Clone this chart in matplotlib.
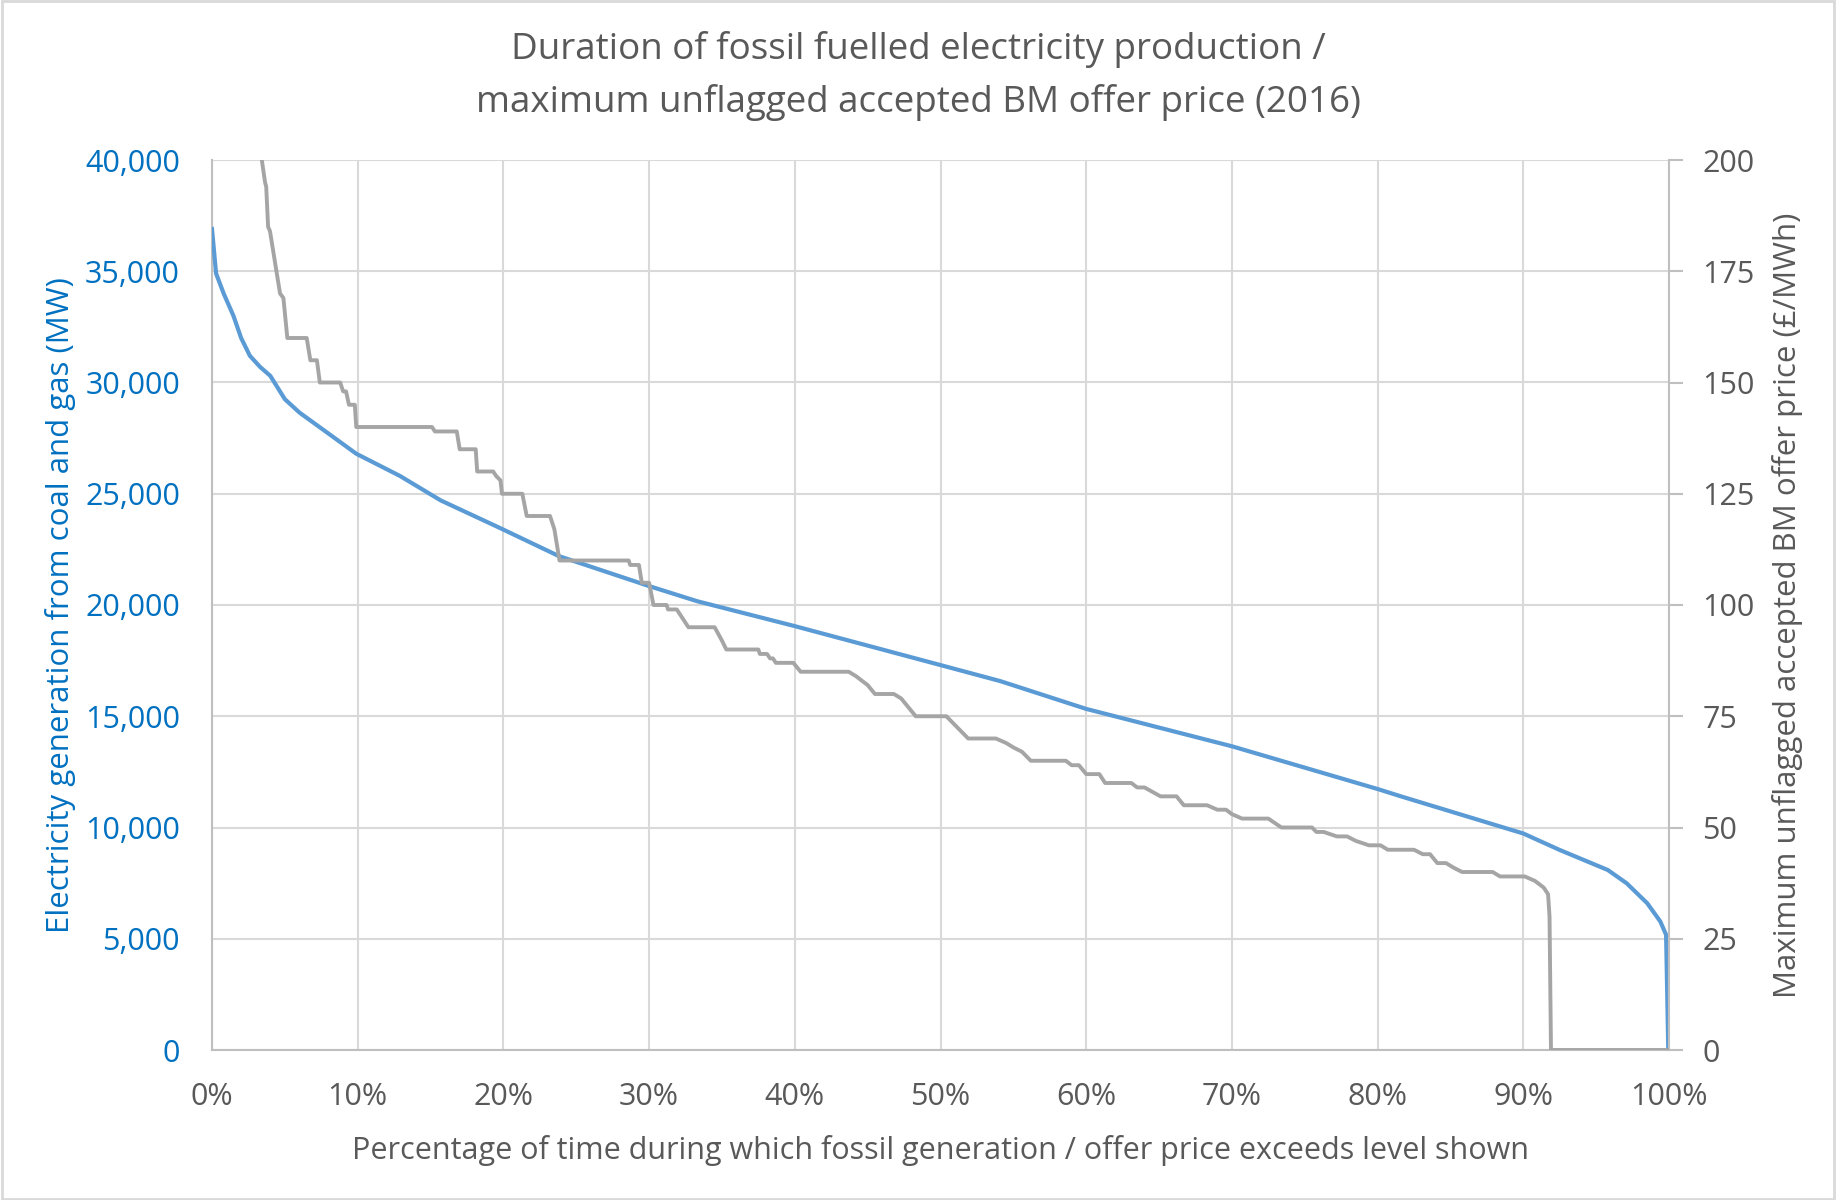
import numpy as np
import matplotlib
matplotlib.use("Agg")
import matplotlib.pyplot as plt
from matplotlib.patches import Rectangle
from matplotlib.ticker import FuncFormatter

# ── data ────────────────────────────────────────────────────────────────
# fossil generation duration curve: % of time, MW
gen_pct = [0, 0.28, 0.8, 1.47, 2.0, 2.6, 3.3, 4.0, 5.0, 6.0, 7.9, 9.9, 12.9, 15.7,
           19.8, 23.8, 30, 33.3, 40, 50, 54.1, 60, 70, 80, 81.6, 90, 92.5,
           95.8, 97.1, 98.5, 99.4, 99.8, 99.95]
gen_mw = [36900, 34900, 34000, 33000, 32000, 31200, 30700, 30300, 29250, 28650, 27750,
          26800, 25800, 24700, 23450, 22200, 20850, 20170, 19050, 17300, 16580,
          15330, 13650, 11730, 11400, 9730, 8990, 8090, 7490, 6600, 5780, 5180, 0]

# max unflagged accepted BM offer price duration curve: % of time, £/MWh
price_pct = [3.2, 3.42, 3.64, 3.72, 3.85, 3.98, 4.67, 4.9, 5.17, 6.5, 6.75, 7.2,
             7.4, 8.8, 9.0, 9.2, 9.4, 9.8, 9.9, 15.1, 15.3, 16.8, 17.0, 18.1,
             18.2, 19.3, 19.5, 19.8, 19.9, 21.3, 21.6, 23.2, 23.5, 23.85, 28.6,
             28.7, 29.3, 29.5, 30.0, 30.3, 31.2, 31.3, 31.9, 32.7, 34.5, 35.0,
             35.3, 37.5, 37.6, 38.1, 38.3, 38.5, 38.7, 39.9, 40.4, 43.7, 44.2,
             45.0, 45.5, 46.8, 47.3, 47.8, 48.3, 50.4, 51.0, 51.9, 53.8, 54.5,
             55.0, 55.6, 56.2, 58.6, 59.0, 59.5, 60.0, 60.9, 61.3, 63.1, 63.5,
             64.0, 65.1, 66.2, 66.7, 68.3, 69.0, 69.6, 70.0, 70.7, 72.5, 73.4,
             75.5, 75.8, 76.3, 77.2, 77.9, 78.5, 79.4, 80.2, 80.7, 82.5, 83.1,
             83.6, 84.1, 84.7, 85.2, 85.8, 87.9, 88.4, 90.1, 90.8, 91.4, 91.7,
             91.8, 91.9, 100]
price_val = [215, 200, 195, 194, 185, 184, 170, 169, 160, 160, 155, 155,
             150, 150, 148, 148, 145, 145, 140, 140, 139, 139, 135, 135,
             130, 130, 129, 128, 125, 125, 120, 120, 117, 110, 110,
             109, 109, 105, 105, 100, 100, 99, 99, 95, 95, 92,
             90, 90, 89, 89, 88, 88, 87, 87, 85, 85, 84,
             82, 80, 80, 79, 77, 75, 75, 73, 70, 70, 69,
             68, 67, 65, 65, 64, 64, 62, 62, 60, 60, 59,
             59, 57, 57, 55, 55, 54, 54, 53, 52, 52, 50,
             50, 49, 49, 48, 48, 47, 46, 46, 45, 45, 44,
             44, 42, 42, 41, 40, 40, 39, 39, 38, 36.5, 35,
             30, 0, 0]

x_ticks = np.arange(0, 101, 10)
mw_ticks = np.arange(0, 40001, 5000)
price_ticks = np.arange(0, 201, 25)

BLUE = "#5B9BD5"
GREY = "#A5A5A5"
TXT = "#595959"
TICK_BLUE = "#0070C0"
GRID = "#D9D9D9"
AXIS = "#BFBFBF"

plt.rcParams["font.family"] = ["Open Sans", "DejaVu Sans"]

fig = plt.figure(figsize=(18.36, 12), dpi=100)
ax = fig.add_axes([212 / 1836, 150 / 1200, 1457 / 1836, 890 / 1200])
ax2 = ax.twinx()

ax.plot(gen_pct, gen_mw, color=BLUE, lw=3, zorder=3, solid_joinstyle="round")
ax2.plot(price_pct, price_val, color=GREY, lw=2.8, zorder=3, solid_joinstyle="round")

ax.set_xlim(0, 100)
ax.set_ylim(0, 40000)
ax2.set_ylim(0, 200)
ax.set_xticks(x_ticks)
ax.set_yticks(mw_ticks)
ax2.set_yticks(price_ticks)
ax.xaxis.set_major_formatter(FuncFormatter(lambda v, p: f"{v:.0f}%"))
ax.yaxis.set_major_formatter(FuncFormatter(lambda v, p: f"{v:,.0f}"))

ax.grid(True, color=GRID, lw=1.5, zorder=0)
ax.set_axisbelow(True)

for a in (ax, ax2):
    for sp in a.spines.values():
        sp.set_visible(False)
for sp in ("left", "bottom"):
    ax.spines[sp].set_visible(True)
    ax.spines[sp].set_color(AXIS)
    ax.spines[sp].set_linewidth(1.5)
ax2.spines["right"].set_visible(True)
ax2.spines["right"].set_color(AXIS)
ax2.spines["right"].set_linewidth(1.5)

ax.tick_params(axis="x", length=0, pad=23, labelsize=22, labelcolor=TXT)
ax.tick_params(axis="y", length=0, pad=23, labelsize=22, labelcolor=TICK_BLUE)
ax2.tick_params(axis="y", length=10, width=1.5, color=AXIS, pad=14,
                labelsize=22, labelcolor=TXT)

ax.set_xlabel("Percentage of time during which fossil generation / offer price exceeds level shown",
              fontsize=22, color=TXT)
ax.xaxis.set_label_coords(0.5, -0.113)
ax.xaxis.label.set_va("center")
ax.set_ylabel("Electricity generation from coal and gas (MW)", fontsize=22.5, color=TICK_BLUE)
ax.yaxis.set_label_coords(-0.104, 0.5)
ax.yaxis.label.set_va("center")
ax2.set_ylabel("Maximum unflagged accepted BM offer price (£/MWh)", fontsize=22.5, color=TXT)
ax2.yaxis.set_label_coords(1.081, 0.5)
ax2.yaxis.label.set_va("center")

fig.text(0.5, 1 - 76 / 1200,
         "Duration of fossil fuelled electricity production /\nmaximum unflagged accepted BM offer price (2016)",
         ha="center", va="center", fontsize=26.5, color=TXT, linespacing=1.55)

fig.patches.append(Rectangle((0.001, 0.001), 0.998, 0.998, transform=fig.transFigure,
                             fill=False, edgecolor=GRID, lw=2))

fig.savefig("out.png", dpi=100)
